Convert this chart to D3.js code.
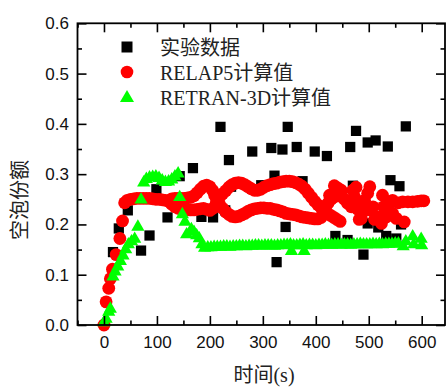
<!DOCTYPE html>
<html>
<head>
<meta charset="utf-8">
<script src="https://cdn.jsdelivr.net/npm/d3@7"></script>
<style>
body { margin: 0; background: #fff; }
</style>
</head>
<body>
<div id="chart"></div>
<script>
var w = 446;
var h = 387;

// experiment data [time, void fraction]
var expData = [[17,0.145],[28,0.192],[45,0.228],[70,0.148],[86,0.178],[99,0.27],[120,0.214],[143,0.296],[168,0.312],
    [184,0.215],[206,0.214],[220,0.394],[229,0.228],[236,0.328],[240,0.275],[280,0.345],[297,0.278],[316,0.352],
    [322,0.297],[326,0.125],[337,0.349],[343,0.195],[347,0.394],[364,0.354],[375,0.286],[398,0.345],[421,0.336],
    [437,0.177],[460,0.169],[465,0.354],[470,0.277],[476,0.386],[490,0.14],[498,0.202],[498,0.363],[513,0.367],
    [518,0.194],[533,0.177],[536,0.355],[541,0.288],[552,0.172],[558,0.276],[561,0.2],[570,0.395]];

// RELAP5 results
var relapData = [[0,0.0],[4,0.046],[9,0.073],[12,0.092],[16,0.111],[23,0.14],[30,0.172],[35,0.207],[39,0.243],
    [44,0.248],[50,0.25],[56,0.251],[62,0.252],[68,0.252],[74,0.252],[80,0.252],[86,0.252],[92,0.251],[98,0.25],
    [104,0.25],[110,0.249],[116,0.248],[122,0.246],
    [128,0.24],[134,0.235],[140,0.232],[146,0.23],[152,0.23],[158,0.229],[164,0.229],[170,0.229],[176,0.23],
    [182,0.231],[188,0.232],[194,0.23],[200,0.228],[206,0.232],[212,0.243],[218,0.254],[224,0.261],[230,0.267],
    [236,0.274],[242,0.279],[248,0.282],[254,0.283],[260,0.282],[266,0.279],[272,0.275],[278,0.271],[284,0.268],
    [290,0.268],[296,0.27],[302,0.274],[308,0.277],[314,0.279],[320,0.281],[326,0.282],[332,0.284],[338,0.285],
    [344,0.286],[350,0.286],[356,0.285],[362,0.283],[368,0.28],[374,0.276],[380,0.27],[386,0.262],[392,0.254],
    [398,0.246],[404,0.239],[410,0.233],[416,0.227],[422,0.222],[428,0.218],[434,0.214],[440,0.21],[446,0.206],
    [128,0.251],[134,0.252],[140,0.252],[146,0.252],[152,0.252],[158,0.253],[164,0.254],[170,0.257],[176,0.263],
    [182,0.27],[188,0.276],[194,0.278],[200,0.275],[205,0.268],[209,0.258],[213,0.249],[218,0.24],[224,0.232],
    [230,0.225],[236,0.22],[242,0.216],[248,0.215],[254,0.216],[260,0.219],[266,0.222],[272,0.226],[278,0.229],
    [284,0.231],[290,0.232],[296,0.233],[302,0.233],[308,0.232],[314,0.232],[320,0.23],[326,0.229],[332,0.227],
    [338,0.225],[344,0.222],[350,0.221],[356,0.22],[362,0.219],[368,0.217],[374,0.215],[380,0.214],[386,0.213],
    [392,0.212],[398,0.211],[404,0.211],[410,0.214],[414,0.222],[418,0.232],[423,0.242],[429,0.25],[435,0.255],
    [442,0.257],[448,0.258],
    [426,0.258],[435,0.277],[442,0.272],[448,0.268],[454,0.25],[460,0.242],[467,0.235],[470,0.268],[476,0.274],
    [473,0.255],[479,0.23],[482,0.21],[486,0.212],[486,0.245],[492,0.248],[492,0.229],[498,0.262],[502,0.275],
    [502,0.229],[508,0.235],[511,0.21],[518,0.215],[524,0.202],[526,0.258],[528,0.235],[533,0.215],[538,0.24],
    [545,0.248],[545,0.222],[552,0.212],[556,0.243],[564,0.245],[567,0.205],[574,0.245],[583,0.245],[592,0.246],
    [599,0.247],[604,0.247]];

// RETRAN-3D results
var retranData = [[0,0.005],[4,0.012],[9,0.026],[12,0.032],[17,0.096],[21,0.106],[26,0.116],[31,0.127],[36,0.138],
    [41,0.15],[46,0.16],[52,0.166],[58,0.171],[64,0.195],[70,0.249],[75,0.283],[80,0.29],[86,0.293],[92,0.294],
    [98,0.295],[104,0.292],[110,0.287],[116,0.284],[122,0.285],[128,0.289],[134,0.295],[140,0.301],[143,0.254],
    [148,0.22],[153,0.205],[156,0.18],[165,0.19],[170,0.185],[175,0.178],[180,0.172],[185,0.16],
    [190,0.153],[196,0.154],[202,0.154],[208,0.155],[214,0.155],[220,0.155],[226,0.156],[232,0.156],[238,0.155],
    [244,0.156],[250,0.156],[256,0.157],[262,0.157],[268,0.156],[274,0.157],[280,0.157],[286,0.158],[292,0.158],
    [298,0.157],[304,0.158],[310,0.158],[316,0.158],[322,0.157],[328,0.158],[334,0.158],[340,0.159],[346,0.159],
    [352,0.16],[358,0.158],[364,0.158],[370,0.159],[376,0.16],[382,0.158],[388,0.159],[394,0.159],[400,0.158],
    [406,0.159],[412,0.159],[418,0.16],[424,0.159],[430,0.159],[436,0.16],[442,0.16],[448,0.159],[454,0.16],
    [460,0.16],[466,0.159],[472,0.16],[478,0.16],[484,0.161],[490,0.16],[496,0.16],[502,0.16],[508,0.161],
    [514,0.16],[520,0.161],[526,0.16],[532,0.161],[538,0.161],[544,0.161],[550,0.162],[556,0.162],
    [354,0.147],[378,0.147],[565,0.156],[570,0.166],[583,0.176],[585,0.16],[599,0.171],[600,0.158]];

var xTicks = [0, 100, 200, 300, 400, 500, 600];
var xMinor = [-50, 50, 150, 250, 350, 450, 550];
var yTicks = [0, 0.1, 0.2, 0.3, 0.4, 0.5, 0.6];
var yMinor = [0.05, 0.15, 0.25, 0.35, 0.45, 0.55];

var legendNames = ["实验数据", "RELAP5计算值", "RETRAN-3D计算值"];

var plotL = 77.5, plotR = 445, plotT = 23.3, plotB = 325;

var xScale = d3.scaleLinear()
                 .domain([-50, 644])
                 .range([plotL, plotR]);
var yScale = d3.scaleLinear()
                 .domain([0, 0.6])
                 .range([plotB, plotT]);

var svg = d3.select("#chart")
            .append("svg")
            .attr("width", w)
            .attr("height", h)
            .style("display", "block");

// experiment squares
svg.append("g").selectAll("path")
    .data(expData)
    .enter()
    .append("path")
    .attr("d", d3.symbol().type(d3.symbolSquare).size(105))
    .attr("transform", function(d) {
        return "translate(" + xScale(d[0]) + "," + yScale(d[1]) + ")";
    })
    .attr("fill", "#000");

// RELAP5 circles
svg.append("g").selectAll("circle")
    .data(relapData)
    .enter()
    .append("circle")
    .attr("cx", function(d) { return xScale(d[0]); })
    .attr("cy", function(d) { return yScale(d[1]); })
    .attr("r", 6.4)
    .attr("fill", "#ff0000");

// RETRAN-3D triangles
svg.append("g").selectAll("path")
    .data(retranData)
    .enter()
    .append("path")
    .attr("d", d3.symbol().type(d3.symbolTriangle).size(75))
    .attr("transform", function(d) {
        return "translate(" + xScale(d[0]) + "," + yScale(d[1]) + ")";
    })
    .attr("fill", "#00ff00");

// axes, ticks pointing inward
var fmt = d3.format(".1f");
var xAxis = d3.axisBottom(xScale).tickValues(xTicks).tickSize(-9).tickSizeOuter(0).tickPadding(11);
var xAxisMinor = d3.axisBottom(xScale).tickValues(xMinor).tickSize(-4.5).tickSizeOuter(0).tickFormat("");
var xTop = d3.axisTop(xScale).tickValues(xTicks).tickSize(-9).tickSizeOuter(0).tickFormat("");
var xTopMinor = d3.axisTop(xScale).tickValues(xMinor).tickSize(-4.5).tickSizeOuter(0).tickFormat("");
var yAxis = d3.axisLeft(yScale).tickValues(yTicks).tickSize(-9).tickSizeOuter(0).tickPadding(8.5).tickFormat(fmt);
var yAxisMinor = d3.axisLeft(yScale).tickValues(yMinor).tickSize(-4.5).tickSizeOuter(0).tickFormat("");
var yRight = d3.axisRight(yScale).tickValues(yTicks).tickSize(-9).tickSizeOuter(0).tickFormat("");
var yRightMinor = d3.axisRight(yScale).tickValues(yMinor).tickSize(-4.5).tickSizeOuter(0).tickFormat("");

var axes = [
    [xAxis, "translate(0," + plotB + ")"],
    [xAxisMinor, "translate(0," + plotB + ")"],
    [xTop, "translate(0," + plotT + ")"],
    [xTopMinor, "translate(0," + plotT + ")"],
    [yAxis, "translate(" + plotL + ",0)"],
    [yAxisMinor, "translate(" + plotL + ",0)"],
    [yRight, "translate(" + plotR + ",0)"],
    [yRightMinor, "translate(" + plotR + ",0)"]
];
axes.forEach(function(a) {
    var g = svg.append("g").attr("transform", a[1]).call(a[0]);
    g.select(".domain").remove();
    g.selectAll("line").attr("stroke", "#000").attr("stroke-width", 1.6);
    g.selectAll("text")
        .attr("font-family", "'Liberation Sans', Arial, sans-serif")
        .attr("font-size", "17px")
        .attr("fill", "#111");
});

// frame
svg.append("rect")
    .attr("x", plotL)
    .attr("y", plotT)
    .attr("width", plotR - plotL)
    .attr("height", plotB - plotT)
    .attr("fill", "none")
    .attr("stroke", "#000")
    .attr("stroke-width", 1.8);

// mixed text: latin runs in a serif face, CJK runs in the CJK face
var latinFont = "Liberation Serif";
var cjkFont = "Noto Sans CJK SC";
function addRuns(textSel, str) {
    var parts = str.match(/[\u4e00-\u9fff]+|[^\u4e00-\u9fff]+/g);
    parts.forEach(function(p) {
        var cjk = /[\u4e00-\u9fff]/.test(p);
        textSel.append("tspan")
            .text(p)
            .attr("font-family", cjk ? cjkFont : latinFont);
    });
}

// axis titles
var xTitle = svg.append("text")
    .attr("x", 264)
    .attr("y", 382)
    .attr("text-anchor", "middle")
    .attr("font-size", "20px")
    .attr("fill", "#222");
addRuns(xTitle, "时间(s)");

var yTitle = svg.append("text")
    .attr("transform", "translate(20,200) rotate(-90)")
    .attr("dy", "0.35em")
    .attr("text-anchor", "middle")
    .attr("font-size", "20px")
    .attr("fill", "#222");
addRuns(yTitle, "空泡份额");

// legend
var lx = 127;
var ly = [47, 72, 97];
svg.append("path")
    .attr("d", d3.symbol().type(d3.symbolSquare).size(121)())
    .attr("transform", "translate(" + lx + "," + ly[0] + ")")
    .attr("fill", "#000");
svg.append("circle")
    .attr("cx", lx)
    .attr("cy", ly[1])
    .attr("r", 6.3)
    .attr("fill", "#ff0000");
svg.append("path")
    .attr("d", d3.symbol().type(d3.symbolTriangle).size(85)())
    .attr("transform", "translate(" + lx + "," + (ly[2] + 1) + ")")
    .attr("fill", "#00ff00");
legendNames.forEach(function(name, i) {
    var t = svg.append("text")
        .attr("x", 160)
        .attr("y", ly[i] + 8)
        .attr("font-size", "20px")
        .attr("fill", "#222");
    addRuns(t, name);
});
</script>
</body>
</html>
